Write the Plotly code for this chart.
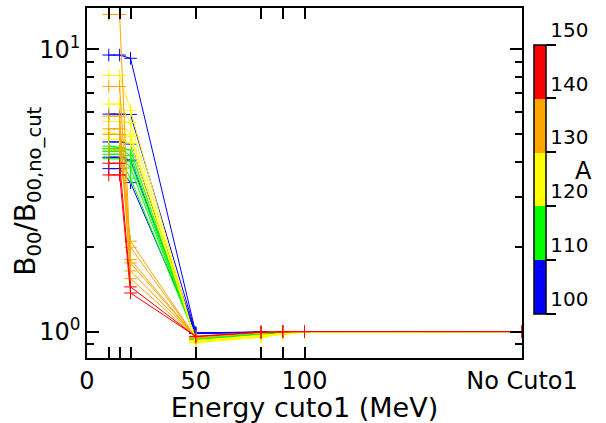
import plotly.graph_objects as go

# Energy cut values (MeV); 200 stands for "No Cuto1"
energy_cut = [10, 15, 20, 50, 80, 90, 100, 200]
x_tick_vals = [0, 10, 15, 20, 50, 80, 90, 100, 200]
x_tick_text = ["0", "", "", "", "50", "", "", "100", "No Cuto1"]

# Mass number A of each series
A_values = [100, 102, 104, 106, 108,
            110, 112, 114, 116, 118,
            120, 122, 124, 126, 128,
            130, 132, 134, 135, 136, 138,
            142, 146]

# B00 / B00,no_cut for each series at each energy cut
ratios = [
    [3.78, 3.78, 3.37, 0.985, 0.995, 1.00, 1.00, 1.00],
    [4.15, 4.15, 4.05, 0.985, 0.995, 1.00, 1.00, 1.00],
    [4.70, 4.70, 4.62, 0.985, 0.995, 1.00, 1.00, 1.00],
    [5.90, 5.90, 5.88, 0.990, 0.995, 1.00, 1.00, 1.00],
    [9.55, 9.55, 9.30, 0.990, 0.995, 1.00, 1.00, 1.00],
    [4.10, 4.10, 3.50, 0.950, 0.985, 0.995, 1.00, 1.00],
    [4.25, 4.25, 3.80, 0.945, 0.985, 0.995, 1.00, 1.00],
    [4.35, 4.35, 4.00, 0.940, 0.980, 0.995, 1.00, 1.00],
    [4.45, 4.45, 4.20, 0.940, 0.980, 0.990, 1.00, 1.00],
    [4.54, 4.50, 4.40, 0.935, 0.980, 0.990, 1.00, 1.00],
    [4.80, 4.80, 4.65, 0.930, 0.970, 0.985, 0.995, 1.00],
    [5.05, 5.00, 4.90, 0.925, 0.965, 0.985, 0.995, 1.00],
    [5.55, 5.55, 5.01, 0.920, 0.960, 0.980, 0.995, 1.00],
    [6.40, 6.40, 5.50, 0.915, 0.955, 0.980, 0.995, 1.00],
    [8.08, 8.08, 6.08, 0.912, 0.955, 0.980, 0.995, 1.00],
    [4.40, 4.40, 2.09, 0.950, 0.990, 1.00, 1.00, 1.00],
    [5.00, 5.00, 1.99, 0.950, 0.990, 1.00, 1.00, 1.00],
    [5.23, 5.23, 1.64, 0.955, 0.990, 1.00, 1.00, 1.00],
    [13.3, 13.3, 1.75, 0.955, 0.990, 1.00, 1.00, 1.00],
    [5.80, 5.80, 1.54, 0.955, 0.990, 1.00, 1.00, 1.00],
    [7.39, 7.39, 1.80, 0.955, 0.990, 1.00, 1.00, 1.00],
    [3.95, 3.95, 1.44, 0.960, 0.995, 1.00, 1.00, 1.00],
    [3.59, 3.59, 1.37, 0.962, 0.995, 1.00, 1.00, 1.00],
]

bin_edges = [100, 110, 120, 130, 140, 150]
bin_colors = ["#0000ff", "#00ff00", "#ffff00", "#ffa500", "#ff0000"]


def color_for(a):
    for i in range(len(bin_colors)):
        if bin_edges[i] <= a < bin_edges[i + 1]:
            return bin_colors[i]
    return bin_colors[-1]


fig = go.Figure()
for a, r in zip(A_values, ratios):
    c = color_for(a)
    fig.add_trace(go.Scatter(
        x=energy_cut, y=r, mode="lines+markers",
        line=dict(color=c, width=1),
        marker=dict(symbol="cross-thin", size=9, color=c, line=dict(color=c, width=1)),
        showlegend=False, hoverinfo="skip"))

# colorbar
cs = []
for i, c in enumerate(bin_colors):
    cs.append([i / 5, c])
    cs.append([(i + 1) / 5, c])

font = "DejaVu Sans"
fig.add_trace(go.Scatter(
    x=[None], y=[None], mode="markers", showlegend=False,
    marker=dict(color=[100], cmin=100, cmax=150, colorscale=cs, showscale=True,
                colorbar=dict(
                    x=1.0276, xanchor="left", xpad=0, y=0.5114, yanchor="middle", ypad=0,
                    len=269, lenmode="pixels", thickness=12, thicknessmode="pixels",
                    outlinecolor="black", outlinewidth=1.5,
                    tickmode="array", tickvals=[100, 110, 120, 130, 140, 150],
                    ticks="outside", ticklen=10, tickwidth=1.5, tickcolor="black",
                    ticklabelposition="outside top",
                    tickfont=dict(family=font, size=20, color="black"),
                ))))

PL, PW, PT, PH = 87, 435, 6, 352.3


def px_x(px):
    return (px - PL) / PW


def px_y(py):
    return 1 - (py - PT) / PH


fig.update_layout(
    width=606, height=423,
    margin=dict(l=87, r=84, t=6, b=65),
    paper_bgcolor="white", plot_bgcolor="white",
    font=dict(family=font, color="black"),
    xaxis=dict(range=[0, 200], tickmode="array", tickvals=x_tick_vals, ticktext=x_tick_text,
               ticks="inside", ticklen=11, tickwidth=1.5, tickcolor="black",
               showline=True, linecolor="black", linewidth=1.5, mirror="ticks",
               showgrid=False, zeroline=False,
               tickfont=dict(family=font, size=24, color="black"),
               title=dict(text="Energy cuto1 (MeV)", font=dict(family=font, size=27), standoff=0)),
    yaxis=dict(type="log", range=[-0.0937, 1.1468], tickmode="array",
               tickvals=[1, 10], ticktext=["10<sup>0</sup>", "10<sup>1</sup>"],
               ticks="inside", ticklen=12, tickwidth=1.5, tickcolor="black",
               showline=True, linecolor="black", linewidth=1.5, mirror="ticks",
               showgrid=False, zeroline=False,
               minor=dict(tickmode="array", tickvals=[0.9, 2, 3, 4, 5, 6, 7, 8, 9],
                          ticks="inside", ticklen=7, tickwidth=1.5, tickcolor="black", showgrid=False),
               tickfont=dict(family=font, size=24, color="black")),
    annotations=[
        dict(text="A", x=px_x(583), y=px_y(170),
             xref="paper", yref="paper", xanchor="center", yanchor="middle",
             showarrow=False, font=dict(family=font, size=24, color="black")),
        dict(text="B<sub>00</sub>/B<sub>00,no_cut</sub>", x=px_x(28), y=px_y(190),
             xref="paper", yref="paper", xanchor="center", yanchor="middle", textangle=-90,
             showarrow=False, font=dict(family=font, size=28, color="black")),
    ],
)

fig.write_html("out.html")
